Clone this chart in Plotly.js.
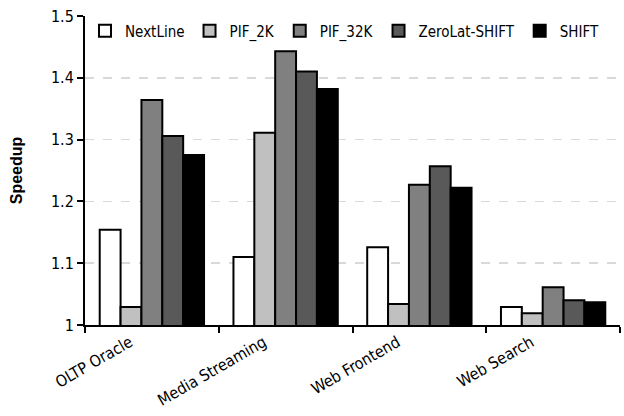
<!DOCTYPE html>
<html><head><meta charset="utf-8">
<script src="https://cdn.plot.ly/plotly-3.0.1.min.js"></script>
<style>html,body{margin:0;padding:0;background:#fff}#chart{width:624px;height:416px}</style>
</head><body><div id="chart"></div>
<script>
const categories = ["OLTP Oracle", "Media Streaming", "Web Frontend", "Web Search"];
const seriesNames = ["NextLine", "PIF_2K", "PIF_32K", "ZeroLat-SHIFT", "SHIFT"];
const nextLine = [1.154, 1.110, 1.126, 1.029];
const pif2k = [1.029, 1.311, 1.034, 1.019];
const pif32k = [1.364, 1.443, 1.227, 1.061];
const zeroLat = [1.306, 1.410, 1.257, 1.040];
const shift = [1.275, 1.382, 1.222, 1.037];
const yTicks = [1, 1.1, 1.2, 1.3, 1.4, 1.5];

const colors = ["#ffffff", "#c0c0c0", "#808080", "#595959", "#000000"];
const values = [nextLine, pif2k, pif32k, zeroLat, shift];
const FONT = "'DejaVu Sans Condensed', 'Liberation Sans Narrow', 'Liberation Sans', Arial, sans-serif";

const traces = values.map((v, i) => ({
  type: "bar", name: seriesNames[i], x: categories, y: v,
  marker: {color: colors[i], line: {color: "#000", width: 2}},
  base: 0
}));

const layout = {
  width: 624, height: 416,
  margin: {l: 85, r: 4, t: 16, b: 91},
  paper_bgcolor: "#fff", plot_bgcolor: "#fff",
  barmode: "group", bargap: 0.22, bargroupgap: 0,
  font: {family: FONT, size: 15, color: "#000"},
  showlegend: true,
  legend: {orientation: "h", x: 0.0, y: 1.005, xanchor: "left", yanchor: "top",
    font: {family: FONT, size: 15}, bgcolor: "rgba(0,0,0,0)", itemwidth: 30,
    traceorder: "normal"},
  xaxis: {type: "category", showline: true, linecolor: "#000", linewidth: 2,
    ticks: "outside", tickson: "boundaries", ticklen: 6, tickwidth: 2, tickcolor: "#000",
    tickangle: -30, ticklabelshift: -22, tickfont: {family: FONT, size: 16}, showgrid: false, zeroline: false},
  yaxis: {range: [1, 1.5], tickvals: yTicks, ticktext: yTicks.map(String),
    showline: true, linecolor: "#000", linewidth: 2, ticks: "outside", ticklen: 6,
    tickwidth: 2, tickcolor: "#000", tickfont: {family: FONT, size: 16},
    showgrid: true, gridcolor: "#d9d9d9", gridwidth: 1.5, griddash: "dash", zeroline: false,
    title: {text: "<b>Speedup</b>", font: {family: "'Liberation Sans', Arial, sans-serif", size: 16}, standoff: 24}}
};
Plotly.newPlot("chart", traces, layout, {displayModeBar: false, staticPlot: true});
</script></body></html>
